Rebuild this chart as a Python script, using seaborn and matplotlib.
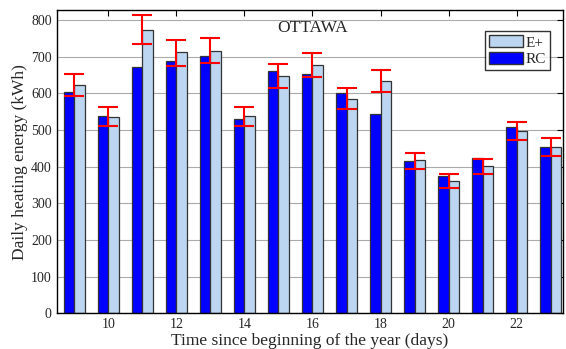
import numpy as np
import pandas as pd
import matplotlib
matplotlib.use("Agg")
import matplotlib.pyplot as plt
import seaborn as sns
from matplotlib.patches import Patch

# data
days = [9, 10, 11, 12, 13, 14, 15, 16, 17, 18, 19, 20, 21, 22, 23]
rc = [604, 539, 672, 688, 703, 530, 661, 653, 600, 545, 415, 374, 423, 507, 455]
eplus = [623, 536, 774, 712, 715, 537, 647, 678, 585, 634, 417, 362, 401, 497, 453]
err_low = [593, 512, 735, 675, 682, 512, 614, 644, 558, 603, 395, 343, 381, 474, 430]
err_high = [653, 564, 813, 745, 752, 564, 680, 711, 614, 664, 438, 381, 421, 523, 477]

df = pd.DataFrame({
    "day": days * 2,
    "energy": rc + eplus,
    "model": ["RC"] * len(days) + ["E+"] * len(days),
})

sns.set_style("white")
plt.rcParams['font.family'] = ['Liberation Serif', 'DejaVu Serif']

fig = plt.figure(figsize=(5.66, 3.49), dpi=100)
ax = fig.add_axes([0.100, 0.102, 0.894, 0.869])

colors = {"RC": "#0000FF", "E+": "#BCD5F0"}
sns.barplot(data=df, x="day", y="energy", hue="model", hue_order=["RC", "E+"],
            palette=colors, native_scale=True, width=0.6, saturation=1,
            edgecolor="#333333", linewidth=0.9, legend=False, ax=ax, zorder=2)

# error bars on E+ values, centred between the two bars
centre = np.array(eplus)
yerr = [centre - np.array(err_low), np.array(err_high) - centre]
ax.errorbar(days, centre, yerr=yerr, fmt="none", ecolor="red",
            elinewidth=1.5, capsize=7, capthick=1.5, zorder=3)

ax.set_xlim(8.48, 23.35)
ax.set_ylim(0, 827)
ax.set_xticks(range(10, 23, 2))
ax.set_yticks(range(0, 801, 100))
ax.yaxis.grid(True, color="#aaaaaa", linewidth=0.8, zorder=0)
ax.set_axisbelow(True)
ax.tick_params(direction="in", top=True, right=True, length=4,
               labelsize=10, color="black")
for s in ax.spines.values():
    s.set_color("black")
    s.set_linewidth(1)

ax.set_xlabel("Time since beginning of the year (days)", fontsize=12.5, labelpad=1)
ax.set_ylabel("Daily heating energy (kWh)", fontsize=12.5, labelpad=2)
ax.text(16, 778, "OTTAWA", ha="center", va="center", fontsize=12.5)

handles = [Patch(facecolor=colors["E+"], edgecolor="#333333"),
           Patch(facecolor=colors["RC"], edgecolor="#333333")]
leg = ax.legend(handles, ["E+", "RC"], loc="upper right", bbox_to_anchor=(0.975, 0.93),
                fontsize=11, frameon=True, fancybox=False, handlelength=2.2,
                handleheight=0.85, handletextpad=0.2, borderpad=0.25,
                labelspacing=0.15, borderaxespad=0)
leg.get_frame().set_edgecolor("black")
leg.get_frame().set_linewidth(1)

fig.savefig("out.png", dpi=100)
